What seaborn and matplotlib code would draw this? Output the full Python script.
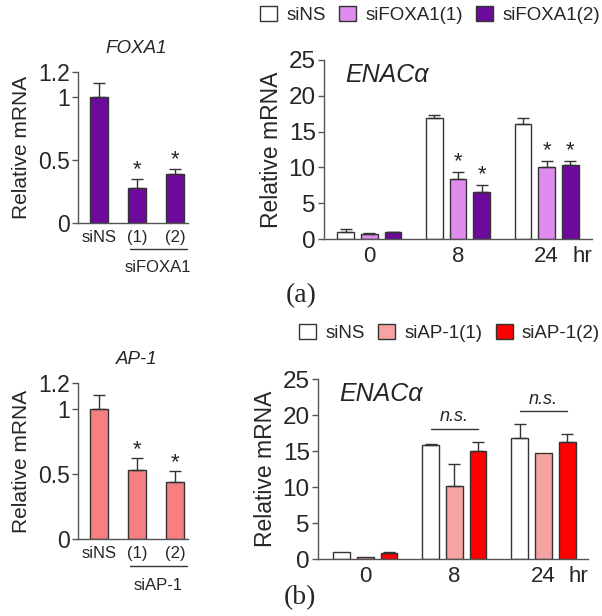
import numpy as np
import pandas as pd
import matplotlib
matplotlib.use("Agg")
import matplotlib.pyplot as plt
import matplotlib.transforms as mtrans
from matplotlib.patches import Patch
import seaborn as sns

# ---------------- data ----------------
small_labels = ["siNS", "(1)", "(2)"]
foxa1_vals = [1.00, 0.28, 0.39]
foxa1_err = [0.11, 0.07, 0.04]
ap1_vals = [1.00, 0.53, 0.44]
ap1_err = [0.11, 0.09, 0.08]

times = ["0", "8", "24"]
groups_a = ["siNS", "siFOXA1(1)", "siFOXA1(2)"]
enac_a_vals = {"siNS": [1.02, 16.85, 16.0],
               "siFOXA1(1)": [0.70, 8.33, 10.0],
               "siFOXA1(2)": [0.93, 6.6, 10.33]}
enac_a_err = {"siNS": [0.33, 0.45, 0.85],
              "siFOXA1(1)": [0.14, 1.07, 0.9],
              "siFOXA1(2)": [0.05, 1.0, 0.57]}
groups_b = ["siNS", "siAP-1(1)", "siAP-1(2)"]
enac_b_vals = {"siNS": [1.02, 15.9, 16.76],
               "siAP-1(1)": [0.23, 10.1, 14.7],
               "siAP-1(2)": [0.79, 15.0, 16.3]}
enac_b_err = {"siNS": [0.0, 0.05, 2.05],
              "siAP-1(1)": [0.0, 3.1, 0.0],
              "siAP-1(2)": [0.23, 1.3, 1.0]}
ns_line_y = [18.05, 20.5]   # n.s. bracket heights at 8 and 24 hr

col_purple = "#6c0a9b"
col_lpurple = "#e08cef"
col_salmon = "#f77f7f"
col_lpink = "#f7a3a3"
col_red = "#ff0000"
pal_a = {"siNS": "white", "siFOXA1(1)": col_lpurple, "siFOXA1(2)": col_purple}
pal_b = {"siNS": "white", "siAP-1(1)": col_lpink, "siAP-1(2)": col_red}

sns.set_theme(style="ticks")
plt.rcParams["font.family"] = ["Liberation Sans", "DejaVu Sans"]

W, H = 602, 616
fig = plt.figure(figsize=(W / 100, H / 100), dpi=100)


def px_axes(l, r, t, b):
    return fig.add_axes([l / W, 1 - b / H, (r - l) / W, (b - t) / H])


EC = "#333333"
SP = "#555555"


def style_axes(ax, ytick_size, xtick_size):
    sns.despine(ax=ax)
    for s in ["left", "bottom"]:
        ax.spines[s].set_color(SP)
        ax.spines[s].set_linewidth(1.0)
    ax.tick_params(axis="y", length=4, width=1, color=SP, labelsize=ytick_size, pad=2)
    ax.tick_params(axis="x", length=0, labelsize=xtick_size, pad=5)
    ax.set_xlabel("")


def small_panel(ax, vals, errs, color, title, group_label):
    df = pd.DataFrame({"label": small_labels, "value": vals})
    sns.barplot(data=df, x="label", y="value", color=color, width=0.47,
                edgecolor=EC, linewidth=1, errorbar=None, ax=ax, saturation=1)
    xs = [p.get_x() + p.get_width() / 2 for p in ax.patches]
    hs = [p.get_height() for p in ax.patches]
    ax.errorbar(xs, hs, yerr=[np.zeros(len(errs)), errs], fmt="none",
                ecolor=EC, elinewidth=1, capsize=4, capthick=1)
    for x, h, e in zip(xs[1:], hs[1:], errs[1:]):
        ax.text(x, h + e - 0.01, "*", ha="center", va="bottom", fontsize=16)
    ax.set_ylim(0, 1.2)
    ax.set_yticks([0, 0.5, 1, 1.2])
    ax.set_yticklabels(["0", "0.5", "1", "1.2"])
    ax.set_xlim(-0.55, 2.34)
    ax.spines["left"].set_bounds(0, 1.2)
    style_axes(ax, 16.5, 12)
    ax.set_ylabel("Relative mRNA", fontsize=15, labelpad=5)
    ax.set_title(title, fontsize=13.5, style="italic", pad=14, x=0.53)
    tr = mtrans.blended_transform_factory(ax.transData, ax.transAxes)
    ax.plot([0.82, 2.32], [-0.17, -0.17], color=EC, lw=1, transform=tr, clip_on=False)
    ax.text(1.55, -0.295, group_label, transform=tr, ha="center", va="center",
            fontsize=12)


def big_panel(ax, groups, vals, errs, pal, stars, xl):
    rows = []
    for g in groups:
        for t, v in zip(times, vals[g]):
            rows.append({"time": t, "group": g, "value": v})
    df = pd.DataFrame(rows)
    sns.barplot(data=df, x="time", y="value", hue="group", hue_order=groups,
                order=times, palette=pal, width=0.8, gap=0.3, edgecolor=EC,
                linewidth=1, errorbar=None, ax=ax, saturation=1, legend=False)
    centers = {}
    for g, cont in zip(groups, ax.containers):
        xs = [p.get_x() + p.get_width() / 2 for p in cont.patches]
        hs = [p.get_height() for p in cont.patches]
        centers[g] = xs
        e = np.array(errs[g])
        m = e > 0
        ax.errorbar(np.array(xs)[m], np.array(hs)[m], yerr=[np.zeros(m.sum()), e[m]],
                    fmt="none", ecolor=EC, elinewidth=1, capsize=4, capthick=1)
        if stars and g != groups[0]:
            for x, h, ee in list(zip(xs, hs, e))[1:]:
                ax.text(x, h + ee - 0.1, "*", ha="center", va="bottom", fontsize=16)
    ax.set_ylim(0, 25)
    ax.set_yticks([0, 5, 10, 15, 20, 25])
    ax.set_xlim(*xl)
    style_axes(ax, 17.5, 16)
    ax.set_ylabel("Relative mRNA", fontsize=16.5, labelpad=4)
    ax.text(0.08, 0.915, "ENACα", transform=ax.transAxes, fontsize=18,
            style="italic", ha="left", va="center")
    ax.text(1.0, -0.1, "hr", transform=ax.transAxes, fontsize=16,
            ha="right", va="center")
    return centers


# ---------- panel (a) ----------
ax1 = px_axes(78, 188, 72, 223)
small_panel(ax1, foxa1_vals, foxa1_err, col_purple, "FOXA1", "siFOXA1")

ax2 = px_axes(324, 592, 60, 239)
big_panel(ax2, groups_a, enac_a_vals, enac_a_err, pal_a, True, (-0.51, 2.51))

handles_a = [Patch(facecolor=pal_a[g], edgecolor=EC, linewidth=1, label=g) for g in groups_a]
fig.legend(handles=handles_a, loc="center right", bbox_to_anchor=(600 / W, 1 - 15 / H),
           ncol=3, frameon=False, fontsize=13.5, handlelength=0.9, handleheight=0.9,
           handletextpad=0.5, columnspacing=0.7, borderaxespad=0, borderpad=0)

fig.text(301 / W, 1 - 296 / H, "(a)", fontsize=20, family="Liberation Serif",
         ha="center", va="center")

# ---------- panel (b) ----------
ax3 = px_axes(78, 188, 383, 539)
small_panel(ax3, ap1_vals, ap1_err, col_salmon, "AP-1", "siAP-1")

ax4 = px_axes(318, 588, 379, 559)
cb = big_panel(ax4, groups_b, enac_b_vals, enac_b_err, pal_b, False, (-0.53, 2.5))
for i, y in zip([1, 2], ns_line_y):
    x0 = cb[groups_b[0]][i]
    x1 = cb[groups_b[2]][i]
    ax4.plot([x0, x1], [y, y], color=EC, lw=1)
    ax4.text((x0 + x1) / 2, y + 0.5, "n.s.", ha="center", va="bottom",
             fontsize=13, style="italic")

handles_b = [Patch(facecolor=pal_b[g], edgecolor=EC, linewidth=1, label=g) for g in groups_b]
fig.legend(handles=handles_b, loc="center right", bbox_to_anchor=(600 / W, 1 - 333 / H),
           ncol=3, frameon=False, fontsize=13.5, handlelength=0.9, handleheight=0.9,
           handletextpad=0.5, columnspacing=0.7, borderaxespad=0, borderpad=0)

fig.text(300 / W, 1 - 598 / H, "(b)", fontsize=20, family="Liberation Serif",
         ha="center", va="center")

fig.savefig("out.png", dpi=100)
